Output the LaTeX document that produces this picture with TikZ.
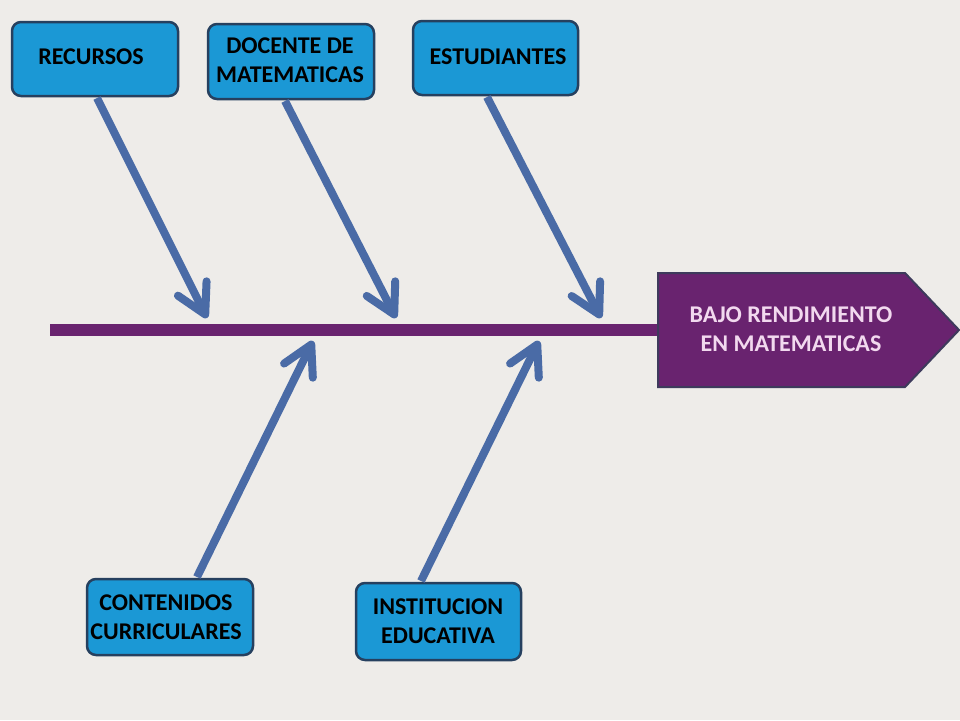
\documentclass[tikz,border=0pt]{standalone}
\usepackage{fontspec}
\setmainfont{Carlito}
\usetikzlibrary{arrows.meta,shapes.geometric}
\definecolor{bg}{HTML}{EEECE9}
\definecolor{boxfill}{HTML}{1B98D5}
\definecolor{boxline}{HTML}{26405F}
\definecolor{arr}{HTML}{4A6BA6}
\definecolor{purp}{HTML}{69236F}
\definecolor{purpline}{HTML}{3E3A5C}
\definecolor{pinktext}{HTML}{F2D9EF}
\tikzset{
  cause/.style={draw=boxline, line width=2.5pt, fill=boxfill, rounded corners=9pt, inner sep=0pt},
  lbl/.style={font=\fontsize{24}{29}\selectfont\bfseries, text=black, align=center, inner sep=0pt},
  bone/.style={draw=arr, line width=8pt,
    -{Straight Barb[length=29pt, width=32pt, line width=8pt, round]}},
}
\begin{document}
\begin{tikzpicture}[x=1pt,y=-1pt]
\fill[bg] (0,0) rectangle (960,720);
\useasboundingbox (0,0) rectangle (960,720);
% spine
\draw[purp, line width=12pt] (50,330) -- (662,330);
% effect
\filldraw[fill=purp, draw=purpline, line width=2pt]
  (658,273) -- (905,273) -- (959,330) -- (905,387) -- (658,387) -- cycle;
\node[lbl, text=pinktext] (effect) at (791,329)
  {BAJO RENDIMIENTO\\ EN MATEMATICAS};
% causes
\node[cause, minimum width=166pt, minimum height=74pt] (rec) at (95,59) {};
\node[lbl] (recT) at (91,57) {RECURSOS};
\node[cause, minimum width=166pt, minimum height=75pt] (doc) at (291,61.5) {};
\node[lbl] (docT) at (290,60) {DOCENTE DE\\MATEMATICAS};
\node[cause, minimum width=165pt, minimum height=74pt] (est) at (495.5,58) {};
\node[lbl] (estT) at (498,57) {ESTUDIANTES};
\node[cause, minimum width=166pt, minimum height=76pt] (con) at (170,617) {};
\node[lbl] (conT) at (166,617) {CONTENIDOS\\CURRICULARES};
\node[cause, minimum width=165pt, minimum height=77pt] (ins) at (438.5,621.5) {};
\node[lbl] (insT) at (438,621) {INSTITUCION\\ EDUCATIVA};
% spine coordinates
\coordinate (p1) at (207,318);
\coordinate (p2) at (396,318);
\coordinate (p3) at (601,318);
\coordinate (q1) at (313,341);
\coordinate (q2) at (539,341);
\draw[bone] (97,98) -- (p1);
\draw[bone] (285,101) -- (p2);
\draw[bone] (487,97) -- (p3);
\draw[bone] (197,577) -- (q1);
\draw[bone] (421,581) -- (q2);
\end{tikzpicture}
\end{document}
